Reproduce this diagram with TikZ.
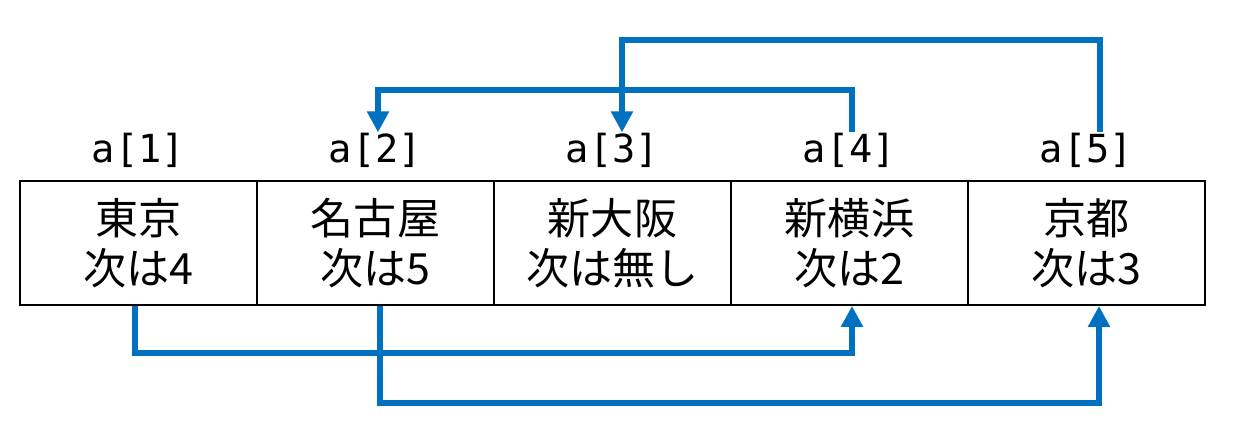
\documentclass[tikz,border=0pt]{standalone}
\usepackage{fontspec}
\setmainfont{Noto Sans CJK JP}
\newfontfamily\idxfont{DejaVu Sans Mono}
\usetikzlibrary{arrows.meta}
\definecolor{linkblue}{HTML}{0070C0}

\begin{document}
\begin{tikzpicture}[x=0.02cm,y=-0.02cm,
  cell/.style={draw,line width=1.1pt,minimum width=4.74cm,minimum height=2.48cm,inner sep=0pt,align=center,font=\fontsize{24.5}{28.5}\selectfont},
  idx/.style={inner sep=0pt,font=\idxfont\fontsize{22}{26}\selectfont},
  link/.style={draw=linkblue,line width=0.12cm,-{Triangle[length=0.42cm,width=0.42cm]}}]
\useasboundingbox (0,0) rectangle (1247,436);
% the array cells
\node (c1) [cell] at (138.5,243) {東京\\次は4};
\node (c2) [cell] at (375.5,243) {名古屋\\次は5};
\node (c3) [cell] at (612.5,243) {新大阪\\次は無し};
\node (c4) [cell] at (849.5,243) {新横浜\\次は2};
\node (c5) [cell] at (1086.5,243) {京都\\次は3};
% indices
\node (l1) [idx] at (138.5,150) {a[1]};
\node (l2) [idx] at (375.5,150) {a[2]};
\node (l3) [idx] at (612.5,150) {a[3]};
\node (l4) [idx] at (849.5,150) {a[4]};
\node (l5) [idx] at (1086.5,150) {a[5]};
% links
\draw[link] ([xshift=0.05cm]l4.north) -- ++(0,-42) -| ([xshift=0.05cm]l2.north);
\draw[link] ([xshift=0.27cm]l5.north) -- ++(0,-92) -| ([xshift=0.19cm]l3.north);
\draw[link] ([xshift=-0.07cm]c1.south) -- ++(0,47) -| ([xshift=0.05cm]c4.south);
\draw[link] ([xshift=0.09cm]c2.south) -- ++(0,97) -| ([xshift=0.25cm]c5.south);
\end{tikzpicture}
\end{document}
